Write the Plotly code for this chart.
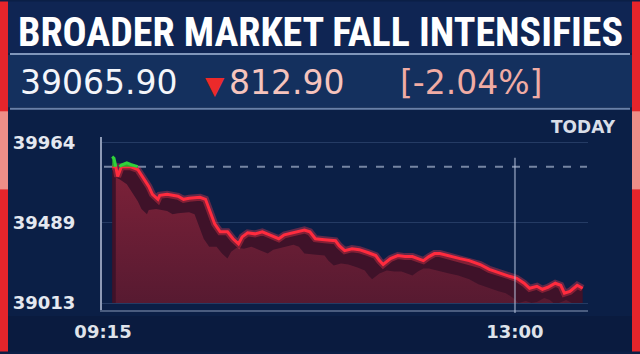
import numpy as np
import pandas as pd
import plotly.graph_objects as go

# ---------------- data ----------------
DAY = "2019-01-01"
TITLE = "BROADER MARKET FALL INTENSIFIES"
LAST_PRICE = "39065.90"
CHANGE = "812.90"
CHANGE_PCT = "[-2.04%]"
PERIOD = "TODAY"

TIMES = [
    "09:20", "09:21", "09:22", "09:23", "09:24", "09:25", "09:28", "09:30", "09:34", "09:37",
    "09:40", "09:42", "09:45", "09:46", "09:50", "09:56", "09:59", "10:02", "10:08", "10:11",
    "10:13", "10:16", "10:19", "10:23", "10:26", "10:29", "10:31", "10:34", "10:38", "10:42",
    "10:46", "10:51", "10:54", "11:00", "11:05", "11:08", "11:11", "11:16", "11:22", "11:24",
    "11:27", "11:31", "11:35", "11:40", "11:44", "11:46", "11:48", "11:52", "11:56", "12:00",
    "12:04", "12:07", "12:10", "12:13", "12:16", "12:19", "12:25", "12:30", "12:35", "12:41",
    "12:46", "12:52", "12:57", "13:01", "13:05", "13:08", "13:12", "13:15", "13:18", "13:22",
    "13:25", "13:27", "13:30", "13:34", "13:37",
]
VALUES = [
    39882, 39872, 39823, 39764, 39794, 39832, 39846, 39836, 39806, 39759,
    39706, 39659, 39629, 39653, 39659, 39647, 39629, 39635, 39641, 39629,
    39571, 39483, 39436, 39436, 39395, 39365, 39406, 39430, 39424, 39436,
    39418, 39395, 39418, 39436, 39447, 39436, 39395, 39389, 39383, 39354,
    39324, 39336, 39330, 39312, 39295, 39265, 39242, 39277, 39295, 39289,
    39289, 39277, 39265, 39289, 39307, 39307, 39289, 39277, 39265, 39242,
    39213, 39189, 39172, 39160, 39131, 39101, 39113, 39095, 39107, 39131,
    39119, 39072, 39083, 39119, 39101,
]
REF_LEVEL = 39823          # dashed reference line
Y_TICKS = [39013, 39489, 39964]
X_TICKS = ["09:15", "13:00"]
MARKER_TIME = "13:00"

# ---------------- geometry / style ----------------
W, H = 640, 354
PL, PR, PT, PB = 102, 588, 137, 312      # plot area in pixels
Y_RANGE = [38972, 39999]
X_RANGE = [f"{DAY} 09:14:27", f"{DAY} 13:39:54"]
SHADOW_SHIFT = pd.Timedelta(minutes=6)
SHADOW_DROP = 88

NAVY = "#0b1f46"
TITLE_BG = "#0f2553"
ROW_BG = "#14305e"
RED = "#e4252b"
SALMON = "#ee8e88"
LINE_RED = "#ff2b3e"
GREEN = "#2fd23a"


def fx(px):
    return (px - PL) / (PR - PL)


def fy(py):
    return (PB - py) / (PB - PT)


t = pd.to_datetime([f"{DAY} {s}" for s in TIMES])
v = np.array(VALUES, dtype=float)
base = Y_TICKS[0]

ts = t - SHADOW_SHIFT
keep = ts >= t[0]

above = v > REF_LEVEL
near = above.copy()
near[1:] |= above[:-1]
near[:-1] |= above[1:]
green_line = np.where(near, np.maximum(v, REF_LEVEL), np.nan)

fig = go.Figure()
# shadow-coloured area under the line
fig.add_trace(go.Scatter(x=t, y=np.full(len(t), base), mode="lines",
                         line=dict(width=0), hoverinfo="skip", showlegend=False))
fig.add_trace(go.Scatter(x=t, y=np.minimum(v, REF_LEVEL), mode="lines", fill="tonexty",
                         fillcolor="#3f1229", line=dict(width=0),
                         hoverinfo="skip", showlegend=False))
# main maroon area (offset like a drop shadow)
fig.add_trace(go.Scatter(x=ts[keep], y=np.full(int(keep.sum()), base), mode="lines",
                         line=dict(width=0), hoverinfo="skip", showlegend=False))
fig.add_trace(go.Scatter(x=ts[keep], y=np.maximum(v[keep] - SHADOW_DROP, base),
                         mode="lines", fill="tonexty",
                         fillgradient=dict(type="vertical",
                                           colorscale=[[0, "#571a31"], [1, "#7a2138"]]),
                         line=dict(width=0), hoverinfo="skip", showlegend=False))
# red line with glow
red_y = np.minimum(v, REF_LEVEL)
fig.add_trace(go.Scatter(x=t, y=red_y, mode="lines",
                         line=dict(color="rgba(255,60,80,0.35)", width=7),
                         hoverinfo="skip", showlegend=False))
fig.add_trace(go.Scatter(x=t, y=red_y, mode="lines",
                         line=dict(color=LINE_RED, width=3),
                         hoverinfo="skip", showlegend=False))
# green part above the reference
fig.add_trace(go.Scatter(x=t, y=np.full(len(t), REF_LEVEL), mode="lines",
                         line=dict(width=0), hoverinfo="skip", showlegend=False))
fig.add_trace(go.Scatter(x=t, y=np.maximum(v, REF_LEVEL), mode="lines", fill="tonexty",
                         fillcolor="rgba(40,170,45,0.9)", line=dict(width=0),
                         hoverinfo="skip", showlegend=False))
fig.add_trace(go.Scatter(x=t, y=green_line, mode="lines", connectgaps=False,
                         line=dict(color=GREEN, width=3),
                         hoverinfo="skip", showlegend=False))

shapes = []


def rect(x0, y0, x1, y1, color, layer="below"):
    shapes.append(dict(type="rect", xref="paper", yref="paper",
                       x0=fx(x0), x1=fx(x1), y0=fy(y1), y1=fy(y0),
                       fillcolor=color, line=dict(width=0), layer=layer))


def hline(x0, x1, y, color, width, dash=None, layer="below"):
    ln = dict(color=color, width=width)
    if dash:
        ln["dash"] = dash
    shapes.append(dict(type="line", xref="paper", yref="paper",
                       x0=fx(x0), x1=fx(x1), y0=fy(y), y1=fy(y), line=ln, layer=layer))


# backgrounds
rect(8, 318, 632, 354, "#0a1b3f")
rect(8, 0, 632, 52, TITLE_BG)
rect(8, 54, 632, 107, ROW_BG)
hline(10, 630, 53, "#8096ba", 2)
hline(10, 630, 108.5, "#6880a8", 2)
# side bars
rect(0, 0, 8, 354, RED)
rect(0, 111, 8, 190, SALMON)
rect(632, 0, 640, 354, RED)
rect(632, 111, 640, 190, SALMON)

# dashed reference line
shapes.append(dict(type="line", xref="paper", yref="y", x0=fx(104), x1=fx(587),
                   y0=REF_LEVEL, y1=REF_LEVEL,
                   line=dict(color="rgba(190,202,225,0.6)", width=2, dash="8px,9px"),
                   layer="below"))
# 13:00 marker line
shapes.append(dict(type="line", xref="x", yref="paper",
                   x0=f"{DAY} {MARKER_TIME}", x1=f"{DAY} {MARKER_TIME}",
                   y0=fy(315), y1=fy(158),
                   line=dict(color="rgba(190,202,228,0.5)", width=2), layer="above"))

annotations = [
    dict(text=f"<b>{TITLE}</b>", x=fx(320), y=fy(31), xref="paper", yref="paper",
         xanchor="center", yanchor="middle", showarrow=False,
         font=dict(family="Liberation Sans Narrow, Roboto Condensed, DejaVu Sans Condensed, Roboto, sans-serif",
                   size=40, color="#ffffff")),
    dict(text=LAST_PRICE, x=fx(18), y=fy(82), xref="paper", yref="paper",
         xanchor="left", yanchor="middle", showarrow=False,
         font=dict(family="DejaVu Sans", size=33, color="#f4f6fa")),
    dict(text="▼", x=fx(215), y=fy(85), xref="paper", yref="paper",
         xanchor="center", yanchor="middle", showarrow=False,
         font=dict(family="DejaVu Sans", size=25, color="#ec2a2a")),
    dict(text=CHANGE, x=fx(227), y=fy(82), xref="paper", yref="paper",
         xanchor="left", yanchor="middle", showarrow=False,
         font=dict(family="DejaVu Sans", size=33, color="#f6c4bd")),
    dict(text=CHANGE_PCT, x=fx(398), y=fy(82), xref="paper", yref="paper",
         xanchor="left", yanchor="middle", showarrow=False,
         font=dict(family="DejaVu Sans", size=33, color="#f0aca4")),
    dict(text=f"<b>{PERIOD}</b>", x=fx(618), y=fy(127), xref="paper", yref="paper",
         xanchor="right", yanchor="middle", showarrow=False,
         font=dict(family="DejaVu Sans", size=17, color="#d9dee8")),
]

fig.update_layout(
    width=W, height=H,
    margin=dict(l=PL, r=W - PR, t=PT, b=H - PB, pad=0),
    paper_bgcolor=NAVY, plot_bgcolor="rgba(0,0,0,0)",
    shapes=shapes, annotations=annotations, showlegend=False,
    xaxis=dict(type="date", range=X_RANGE,
               tickvals=[f"{DAY} {s}" for s in X_TICKS], ticktext=X_TICKS,
               showgrid=False, zeroline=False,
               showline=True, linecolor="rgba(150,166,198,0.45)", linewidth=2,
               ticks="", ticklabelstandoff=4,
               tickfont=dict(family="DejaVu Sans", size=18, color="#dfe3ea", weight="bold")),
    yaxis=dict(range=Y_RANGE, tickvals=Y_TICKS, ticktext=[str(y) for y in Y_TICKS],
               showgrid=True, gridcolor="rgba(100,125,172,0.3)", gridwidth=1,
               zeroline=False, showline=True, linecolor="rgba(185,196,220,0.75)",
               linewidth=2, ticks="", ticklabelstandoff=21,
               tickfont=dict(family="DejaVu Sans", size=18, color="#e4e8f0", weight="bold")),
)

fig.write_html("out.html", config={"displayModeBar": False})
